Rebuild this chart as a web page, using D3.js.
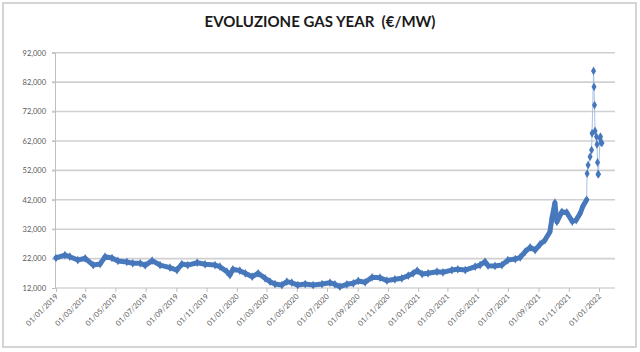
<!DOCTYPE html>
<html>
<head>
<meta charset="utf-8">
<script src="https://cdn.jsdelivr.net/npm/d3@7"></script>
<style>
body { margin: 0; background: #fff; }
text { font-family: Lato, "Liberation Sans", sans-serif; }
</style>
</head>
<body>
<svg id="chart" width="640" height="352"></svg>
<script>
var dates = [
    "2019-01-01", "2019-01-19", "2019-01-29", "2019-02-14", "2019-03-01", "2019-03-17", "2019-03-31",
    "2019-04-10", "2019-04-24", "2019-05-06", "2019-05-24", "2019-06-05", "2019-06-20", "2019-06-30",
    "2019-07-14", "2019-07-30", "2019-08-19", "2019-09-02", "2019-09-12", "2019-09-24", "2019-10-13",
    "2019-10-29", "2019-11-18", "2019-11-28", "2019-12-12", "2019-12-18", "2019-12-24", "2020-01-07",
    "2020-01-18", "2020-02-01", "2020-02-13", "2020-02-27", "2020-03-08", "2020-03-18", "2020-04-01",
    "2020-04-11", "2020-04-21", "2020-05-03", "2020-05-18", "2020-06-03", "2020-06-21", "2020-07-07",
    "2020-07-17", "2020-07-27", "2020-08-10", "2020-08-23", "2020-09-02", "2020-09-16", "2020-09-30",
    "2020-10-16", "2020-10-30", "2020-11-15", "2020-11-29", "2020-12-12", "2020-12-22", "2020-12-30",
    "2021-01-09", "2021-01-21", "2021-02-08", "2021-02-20", "2021-03-10", "2021-03-22", "2021-04-06",
    "2021-04-26", "2021-05-06", "2021-05-16", "2021-05-22", "2021-06-05", "2021-06-19", "2021-07-01",
    "2021-07-16", "2021-07-26", "2021-08-05", "2021-08-15", "2021-08-25", "2021-09-04", "2021-09-14",
    "2021-09-24", "2021-09-28", "2021-10-04", "2021-10-08", "2021-10-18", "2021-10-28", "2021-11-08",
    "2021-11-16", "2021-11-24", "2021-11-29", "2021-12-07",
    "2021-12-08", "2021-12-10", "2021-12-14", "2021-12-17", "2021-12-18", "2021-12-21", "2021-12-22",
    "2021-12-23", "2021-12-24", "2021-12-27", "2021-12-28", "2021-12-29", "2021-12-30", "2021-12-31",
    "2022-01-03", "2022-01-04", "2022-01-05", "2022-01-07"
];
var values = [
    22200, 23200, 22650, 21500, 22100, 19800, 20150,
    22650, 22200, 21200, 20850, 20400, 20400, 19700,
    21300, 19800, 18900, 18100, 20150, 19800, 20600,
    20050, 19800, 19250, 17550, 16400, 18350, 17900,
    17000, 15850, 17000, 15300, 14150, 13350, 13000,
    14150, 13800, 13000, 13350, 13000, 13350, 13800,
    13250, 12450, 13250, 13600, 14400, 13950, 15650,
    15500, 14500, 14950, 15300, 16200, 17000, 17900,
    16750, 17000, 17550, 17350, 18100, 18350, 18100,
    19250, 19800, 20950, 19600, 19500, 19800, 21500,
    21850, 22400, 24350, 25850, 24900, 26850, 28300,
    31150, 35700, 41000, 34500, 37900, 37700, 34600,
    35100, 37400, 39600, 42000,
    50900, 53800, 56600, 58900, 64600, 85800, 80400,
    74200, 65400, 63400, 60800, 54700, 50700, 50700,
    62900, 63500, 61500, 61300
];
var tickLabels = [
    "01/01/2019", "01/03/2019", "01/05/2019", "01/07/2019", "01/09/2019", "01/11/2019",
    "01/01/2020", "01/03/2020", "01/05/2020", "01/07/2020", "01/09/2020", "01/11/2020",
    "01/01/2021", "01/03/2021", "01/05/2021", "01/07/2021", "01/09/2021", "01/11/2021",
    "01/01/2022"
];
var yTicks = [12000, 22000, 32000, 42000, 52000, 62000, 72000, 82000, 92000];
var title = "EVOLUZIONE GAS YEAR  (\u20AC/MW)";
// after this date the series is sparse enough that the markers stand apart
var denseUntil = "2021-12-07";

var parseIso = d3.timeParse("%Y-%m-%d");
var parseLabel = d3.timeParse("%d/%m/%Y");

var data = dates.map(function (d, i) {
    return { date: parseIso(d), value: values[i] };
});

var svg = d3.select("#chart");

// frame round the whole chart
svg.append("rect")
    .attr("x", 3).attr("y", 3)
    .attr("width", 633).attr("height", 344)
    .attr("fill", "#fff")
    .attr("stroke", "#d4d4d4")
    .attr("stroke-width", 2);

svg.append("text")
    .attr("x", 320)
    .attr("y", 27)
    .attr("text-anchor", "middle")
    .style("white-space", "pre")
    .style("font-size", "15px")
    .style("font-weight", "bold")
    .style("fill", "#1a1a1a")
    .text(title);

var x = d3.scaleTime()
    .domain([parseLabel(tickLabels[0]), parseLabel(tickLabels[tickLabels.length - 1])])
    .range([56, 599]);

var y = d3.scaleLinear()
    .domain([12000, 92000])
    .range([288, 52.7]);

var plotLeft = 55, plotRight = 615;

// gridlines
svg.append("g")
    .selectAll("line")
    .data(yTicks.slice(1))
    .enter()
    .append("line")
    .attr("x1", plotLeft - 3)
    .attr("x2", plotRight)
    .attr("y1", function (d) { return y(d); })
    .attr("y2", function (d) { return y(d); })
    .attr("stroke", "#d0d0d0")
    .attr("stroke-width", 1.6);

// y axis
var yAxis = svg.append("g")
    .attr("transform", "translate(" + plotLeft + ",0)")
    .call(d3.axisLeft(y).tickValues(yTicks).tickSize(3).tickPadding(6).tickFormat(d3.format(",")));
yAxis.select(".domain").attr("stroke", "#bfbfbf");
yAxis.selectAll(".tick line").attr("stroke", "#bfbfbf");
yAxis.selectAll(".tick text")
    .style("font-size", "7.5px")
    .style("fill", "#595959");

// x axis
var xAxis = svg.append("g")
    .attr("transform", "translate(0," + y(12000) + ")")
    .call(d3.axisBottom(x)
        .tickValues(tickLabels.map(parseLabel))
        .tickSize(4)
        .tickSizeOuter(0)
        .tickFormat(d3.timeFormat("%d/%m/%Y")));
xAxis.select(".domain")
    .attr("d", "M" + plotLeft + ",0H" + plotRight)
    .attr("stroke", "#bfbfbf");
xAxis.selectAll(".tick line").attr("stroke", "#bfbfbf");
xAxis.selectAll(".tick text")
    .attr("text-anchor", "end")
    .attr("dy", null)
    .attr("y", 0)
    .attr("transform", "translate(2,9) rotate(-45)")
    .style("font-size", "7.5px")
    .style("fill", "#595959");

var line = d3.line()
    .x(function (d) { return x(d.date); })
    .y(function (d) { return y(d.value); });

var cutoff = parseIso(denseUntil);

// thin connecting line
svg.append("path")
    .datum(data)
    .attr("fill", "none")
    .attr("stroke", "#a8c2e6")
    .attr("stroke-width", 1)
    .attr("d", line);

// the daily points overlap into a solid band where they are dense
svg.append("path")
    .datum(data.filter(function (d) { return d.date <= cutoff; }))
    .attr("fill", "none")
    .attr("stroke", "#4879bc")
    .attr("stroke-width", 5)
    .attr("stroke-linejoin", "round")
    .attr("stroke-linecap", "round")
    .attr("d", line);

// diamond markers
svg.append("g")
    .selectAll("path")
    .data(data)
    .enter()
    .append("path")
    .attr("transform", function (d) {
        return "translate(" + x(d.date) + "," + y(d.value) + ")";
    })
    .attr("d", d3.symbol().type(d3.symbolDiamond).size(22))
    .attr("fill", "#4677bb");
</script>
</body>
</html>
